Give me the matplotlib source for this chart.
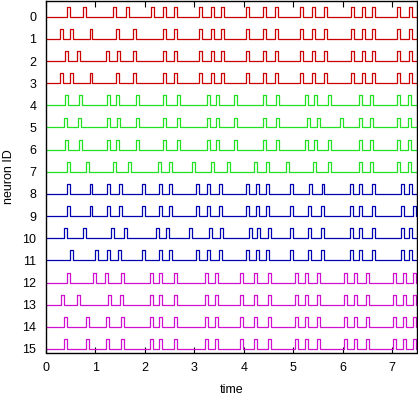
import numpy as np
import matplotlib
matplotlib.use('Agg')
from matplotlib import pyplot as plt

plt.rcParams['font.family'] = ['Liberation Sans', 'DejaVu Sans']

# spike times per neuron
late_red = [2.61, 3.13, 3.37, 3.57, 4.07, 4.41, 4.65, 5.16, 5.40, 5.66,
            6.19, 6.41, 6.62, 7.13, 7.37]
n0 = [0.45, 0.78, 1.39, 1.64, 2.15, 2.40] + late_red
n1 = [0.31, 0.51, 0.91, 1.45, 1.78, 2.40] + late_red
n2 = [0.41, 0.66, 1.25, 1.47, 1.78, 2.40] + late_red
n3 = [0.31, 0.51, 0.91, 1.45, 1.78, 2.40] + late_red

n4 = [0.41, 0.70, 1.27, 1.45, 1.85, 2.39, 2.68, 3.28, 3.47, 3.84, 4.41, 4.68,
      5.26, 5.44, 5.74, 6.35, 6.58, 7.13, 7.35]
n5 = [0.39, 0.68, 1.27, 1.46, 1.85, 2.39, 2.68, 3.28, 3.47, 3.84, 4.41, 4.68,
      5.30, 5.51, 5.98, 6.35, 6.58, 7.13, 7.35]
n6 = [0.41, 0.70, 1.27, 1.45, 1.85, 2.39, 2.68, 3.28, 3.47, 3.84, 4.41, 4.68,
      5.26, 5.44, 5.74, 6.35, 6.58, 7.13, 7.35]
n7 = [0.45, 0.84, 1.39, 1.68, 2.30, 2.51, 2.98, 3.37, 3.68, 4.24, 4.47, 4.89,
      5.42, 5.74, 6.35, 6.58, 7.13, 7.35]

n8 = [0.45, 0.91, 1.27, 1.50, 1.97, 2.31, 2.52, 3.06, 3.28, 3.52, 4.07, 4.27,
      4.48, 4.97, 5.35, 5.60, 6.18, 6.35, 6.62, 7.20, 7.37]
n9 = [0.45, 0.91, 1.27, 1.50, 1.97, 2.31, 2.52, 3.06, 3.28, 3.52, 4.07, 4.27,
      4.48, 4.97, 5.33, 5.58, 6.18, 6.35, 6.62, 7.20, 7.44]
n10 = [0.40, 0.78, 1.34, 1.61, 2.25, 2.46, 2.93, 3.32, 3.55, 4.14, 4.29, 4.51,
       4.97, 5.33, 5.58, 6.18, 6.35, 6.62, 7.20, 7.37]
n11 = [0.52, 1.03, 1.26, 1.49, 1.97, 2.31, 2.52, 3.06, 3.28, 3.52, 4.07, 4.27,
       4.48, 4.97, 5.33, 5.58, 6.18, 6.35, 6.62, 7.20, 7.37]

late_mag = [2.13, 2.31, 2.61, 3.25, 3.45, 3.95, 4.24, 4.51, 5.07, 5.26, 5.51,
            6.06, 6.26, 6.50, 7.04, 7.24, 7.44]
n12 = [0.45, 0.98, 1.23, 1.54] + late_mag
n13 = [0.33, 0.66, 1.28, 1.53] + late_mag
n14 = [0.39, 0.83, 1.24, 1.54] + late_mag
n15 = [0.39, 0.83, 1.24, 1.54] + late_mag

spikes = [n0, n1, n2, n3, n4, n5, n6, n7, n8, n9, n10, n11, n12, n13, n14, n15]
colors = ['#cc0000'] * 4 + ['#22e022'] * 4 + ['#0000b0'] * 4 + ['#d010d0'] * 4

t_end = 7.5
width = 0.06
height = 0.45


def pulse_train(times, base):
    xs, ys = [0.0], [base]
    for t in times:
        a, b = t - width / 2, t + width / 2
        xs += [a, a, b, b]
        ys += [base, base - height, base - height, base]
    xs.append(t_end)
    ys.append(base)
    return xs, ys


fig = plt.figure(figsize=(4.18, 3.96), dpi=100)
ax = fig.add_axes([46 / 418, 43.5 / 396, 371 / 418, 351.5 / 396])

for i, times in enumerate(spikes):
    xs, ys = pulse_train(times, i)
    ax.plot(xs, ys, color=colors[i], lw=0.9)

ax.set_xlim(0, t_end)
ax.set_ylim(15.16, -0.71)
ax.set_xticks(range(8))
ax.set_yticks(range(16))
ax.tick_params(axis='x', direction='in', length=4, top=True, labelsize=9, pad=7)
ax.tick_params(axis='y', length=0, labelsize=9, pad=7)
ax.set_xlabel('time', fontsize=9, labelpad=7)
ax.set_ylabel('neuron ID', fontsize=9, labelpad=5)
for s in ax.spines.values():
    s.set_linewidth(1.0)

fig.savefig('out.png', dpi=100)
